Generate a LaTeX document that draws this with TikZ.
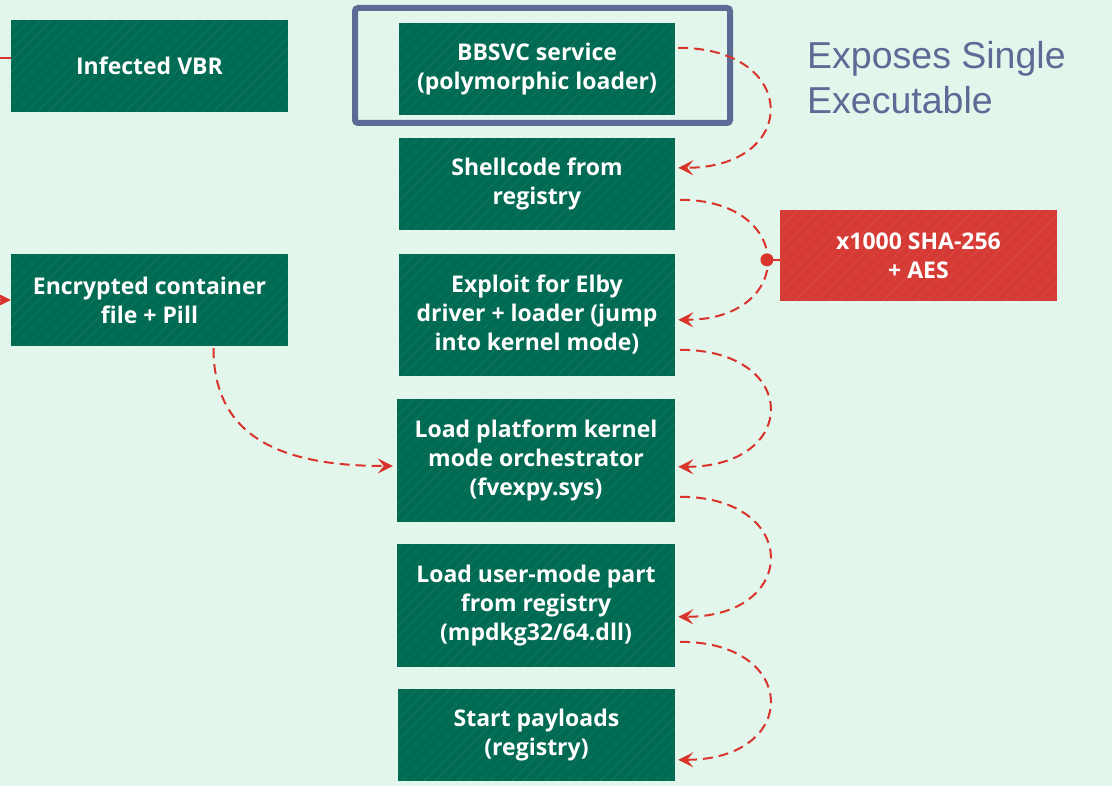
\documentclass[tikz,border=0pt]{standalone}
\usepackage{fontspec}
\setmainfont{Open Sans}
\setsansfont{Liberation Sans}
\usetikzlibrary{arrows.meta}
\definecolor{bgmint}{RGB}{227,246,235}
\definecolor{boxgreen}{RGB}{0,106,82}
\definecolor{boxred}{RGB}{214,58,52}
\definecolor{flowred}{RGB}{217,52,44}
\definecolor{framegray}{RGB}{92,106,150}
\tikzset{
  hatch/.style={path picture={
    \foreach \h in {-150,-139,...,290}
      \draw[white,opacity=0.1,line width=0.6pt] ([xshift=\h pt]path picture bounding box.south west) -- ++(150pt,150pt);}},
  stage/.style={fill=boxgreen,hatch,text=white,font=\bfseries\fontsize{23}{29}\selectfont,
    align=center,minimum width=277pt,minimum height=92pt,inner sep=0pt},
  keybox/.style={stage,fill=boxred},
  flow/.style={flowred,line width=2pt,dash pattern=on 10pt off 6pt,
    -{Stealth[length=15pt,width=15pt,inset=6pt]}},
  feed/.style={flowred,line width=2pt},
  frame/.style={framegray,line width=6pt,rounded corners=3pt},
  note/.style={text=framegray,font=\sffamily\fontsize{37.5}{45}\selectfont,align=left,inner sep=0pt}
}
\begin{document}
\begin{tikzpicture}[x=1pt,y=-1pt]
\useasboundingbox (0,0) rectangle (1112,786);
\clip (0,0) rectangle (1112,786);
\fill[bgmint] (0,0) rectangle (1112,786);

% left column
\node[stage] (vbr) at (149.5,66) {Infected VBR};
\node[stage] (enc) at (149.5,300) {Encrypted container\\file + Pill};

% main chain
\node[stage,minimum width=276pt] (bbsvc) at (537,69) {BBSVC service\\(polymorphic loader)};
\node[stage,minimum width=276pt] (shell) at (537,184) {Shellcode from\\registry};
\node[stage,minimum width=276pt,minimum height=122pt] (exploit) at (537,315) {Exploit for Elby\\driver + loader (jump\\into kernel mode)};
\node[stage,minimum width=278pt,minimum height=123pt] (platform) at (536,460.5) {Load platform kernel\\mode orchestrator\\(fvexpy.sys)};
\node[stage,minimum width=278pt,minimum height=123pt] (usermode) at (536,605.5) {Load user-mode part\\from registry\\(mpdkg32/64.dll)};
\node[stage] (payloads) at (536.5,735) {Start payloads\\(registry)};

\node[keybox,minimum height=91pt] (aes) at (918.5,255.5) {x1000 SHA-256\\+ AES};

\draw[frame] (355,8) rectangle (730,123);
\node[note,anchor=north west] (exposes) at (807,41) {Exposes Single\\Executable};

\draw[flow] ([shift={(3,25)}]bbsvc.north east) .. controls +(122,0) and +(122,0) .. ([shift={(3,30)}]shell.north east);
\draw[flow] ([shift={(5,62)}]shell.north east) .. controls +(116,0) and +(118,0) .. coordinate[pos=0.5] (hub) ([shift={(3,66)}]exploit.north east);
\draw[flow] ([shift={(5,96)}]exploit.north east) .. controls +(120,0) and +(122,0) .. ([shift={(3,68)}]platform.north east);
\draw[flow] ([shift={(5,98)}]platform.north east) .. controls +(120,0) and +(122,0) .. ([shift={(3,73)}]usermode.north east);
\draw[flow] ([shift={(5,98)}]usermode.north east) .. controls +(120,0) and +(122,0) .. ([shift={(3,71)}]payloads.north east);

\fill[flowred] (hub) circle (6.5);
\draw[feed] (hub) -- (aes.west |- hub);

\draw[flow] ([shift={(64,2)}]enc.south) .. controls +(0,90) and +(-110,0) .. ([shift={(-4,5.5)}]platform.west);

\coordinate (offvbr) at (-5,58);
\draw[feed] (offvbr) -- (offvbr -| vbr.west);
\coordinate (offenc) at (-30,300);
\draw[flow,solid] (offenc) -- (offenc -| enc.west);
\end{tikzpicture}
\end{document}
